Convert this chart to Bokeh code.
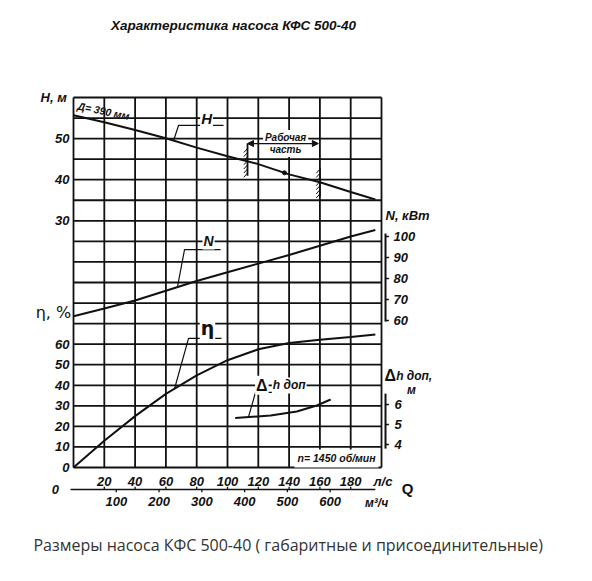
import numpy as np
from bokeh.plotting import figure
from bokeh.models import Range1d, Arrow, NormalHead
from bokeh.core.properties import value
from bokeh.embed import file_html
from bokeh.resources import INLINE

# ---------------- data ----------------
q_grid = [0, 20, 40, 60, 80, 100, 120, 140, 160, 180, 200]      # л/с, vertical grid
row_grid = list(range(0, 19))                                    # horizontal grid rows
q_ls_ticks = [20, 40, 60, 80, 100, 120, 140, 160, 180]           # л/с labels
q_m3h_ticks = [100, 200, 300, 400, 500, 600]                     # м3/ч labels
H_ticks = [30, 40, 50]
eta_ticks = [0, 10, 20, 30, 40, 50, 60]
N_ticks = [60, 70, 80, 90, 100]
dh_ticks = [4, 5, 6]

q_curve = [0, 20, 40, 60, 80, 100, 120, 140, 160, 180, 196]
H_vals = [55.7, 54.0, 52.1, 50.1, 47.8, 45.7, 43.8, 41.3, 39.4, 37.0, 35.2]
N_vals = [62.0, 65.7, 69.5, 74.2, 78.8, 83.0, 87.1, 91.2, 95.6, 100.0, 103.1]
eta_vals = [0, 13.0, 25.0, 35.8, 44.8, 52.2, 57.5, 60.6, 62.2, 63.5, 64.7]
q_dh = [105, 128, 145, 158, 167]
dh_vals = [5.32, 5.45, 5.65, 5.95, 6.25]
work_q = [113, 160]          # working part limits, л/с
opt_q = [137]                # marked point on H curve

title = "Характеристика насоса КФС 500-40"
caption = "Размеры насоса КФС 500-40 ( габаритные и присоединительные)"

# ---------------- scales (grid rows) ----------------
def h_row(h): return 16 + (np.asarray(h, float) - 50) / 5
def n_row(n): return 7.15 + (np.asarray(n, float) - 60) * 0.1022
def eta_row(e): return np.asarray(e, float) / 10
def dh_row(d): return 1.12 + (np.asarray(d, float) - 4) * 0.972

PXQ, PXR = 1.54, 20.556
W, Hh = 576, 565
ox, oy = 73, 467
p = figure(width=W, height=Hh, output_backend="svg", toolbar_location=None,
           x_range=Range1d(-ox / PXQ, (W - ox) / PXQ),
           y_range=Range1d(-(Hh - oy) / PXR, oy / PXR),
           x_axis_location=None, y_axis_location=None, min_border=0)
p.outline_line_color = None
p.grid.visible = False
p.background_fill_color = "white"
p.border_fill_color = "white"

INK = "#111111"
F = value("Liberation Sans")

def txt(x, y, t, size="12px", style="bold italic", align="center", base="middle",
        bg=None, font=F, color=INK, angle=0, pad=1):
    t = list(np.atleast_1d(t))
    n = len(t)
    xs = list(np.broadcast_to(np.atleast_1d(np.asarray(x, float)), (n,)))
    ys = list(np.broadcast_to(np.atleast_1d(np.asarray(y, float)), (n,)))
    kw = {}
    if bg:
        kw = dict(background_fill_color=bg, padding=pad)
    p.text(x=[float(v) for v in xs], y=[float(v) for v in ys], text=[str(v) for v in t],
           text_font=font, text_font_style=style, text_font_size=size,
           text_align=align, text_baseline=base, text_color=color, angle=angle, **kw)

# grid
qmax, rmax = q_grid[-1], row_grid[-1]
p.segment(x0=q_grid, y0=[0] * len(q_grid), x1=q_grid, y1=[rmax] * len(q_grid),
          line_color=INK, line_width=1.8)
p.segment(x0=[0] * len(row_grid), y0=row_grid, x1=[qmax] * len(row_grid), y1=row_grid,
          line_color=INK, line_width=1.8)

# curves
p.line(q_curve, h_row(H_vals), line_color=INK, line_width=2)
p.line(q_curve, n_row(N_vals), line_color=INK, line_width=2)
p.line(q_curve, eta_row(eta_vals), line_color=INK, line_width=2)
p.line(q_dh, dh_row(dh_vals), line_color=INK, line_width=2)
p.scatter(opt_q, h_row(np.interp(opt_q, q_curve, H_vals)), size=4, color=INK)

# working part
hw = h_row(np.interp(work_q, q_curve, H_vals))
arrow_row = 15.76
p.line([work_q[0], work_q[0]], [hw[0] - 0.7, arrow_row], line_color=INK, line_width=1.8)
p.line([work_q[1], work_q[1]], [hw[1] - 0.7, hw[1] + 0.7], line_color=INK, line_width=1.8)
for qq, rr in zip(work_q, hw):
    ys = np.arange(rr - 0.65, rr + 0.6, 0.2)
    p.segment(x0=[qq - 2.4] * len(ys), y0=list(ys - 0.12), x1=[qq] * len(ys), y1=list(ys + 0.08),
              line_color=INK, line_width=1)
txt(137.7, 16.05, "Рабочая", size="10px", bg="white", pad=2)
txt(137.7, 15.47, "часть", size="10px", bg="white", pad=2)
p.add_layout(Arrow(start=NormalHead(size=6, fill_color=INK, line_color=INK),
                   end=NormalHead(size=6, fill_color=INK, line_color=INK),
                   x_start=work_q[0], y_start=arrow_row, x_end=work_q[1] - 1, y_end=arrow_row,
                   line_color=INK, line_width=1.3))

# curve labels with leaders
def leader(q0, r0, qk, rk, q1):
    p.line([q0, qk, q1], [r0, rk, rk], line_color=INK, line_width=1.2)

leader(65, float(h_row(np.interp(65, q_curve, H_vals))), 68.2, 16.64, 97.4)
txt(86.4, 17.0, "H", size="15px", bg="white")
leader(67.5, float(n_row(np.interp(67.5, q_curve, N_vals))), 72.1, 10.6, 95.5)
txt(87.7, 11.04, "N", size="14px", bg="white")
leader(65.6, float(eta_row(np.interp(65.6, q_curve, eta_vals))), 74.7, 6.28, 96.1)
txt(87.0, 6.8, "η", size="19px", style="bold", bg="white", font=value("DejaVu Sans"))
leader(113.6, float(dh_row(np.interp(113.6, q_dh, dh_vals))), 118.2, 3.65, 149.4)
txt(122.3, 4.0, "Δ", size="16px", style="bold", bg="white")
txt(128.8, 3.99, "h доп", size="12px", align="left", bg="white")

txt(19.5, 17.35, "Д= 390 мм", size="10.5px", angle=-0.2)
txt(170.8, 0.44, "n= 1450 об/мин", size="10.5px", bg="white", pad=3)

# left axis labels
txt(-2.6, h_row(H_ticks), H_ticks, size="13px", align="right")
txt(-2.6, eta_row(eta_ticks), eta_ticks, size="13px", align="right")
txt(-21.4, 18.0, "H, м", size="13px", align="left")
txt(-1.5, 7.54, "η, %", size="16px", style="normal", align="right", font=value("DejaVu Sans"))

# right axes
xa = 202.6
p.line([xa, xa], [float(n_row(60)) - 0.05, float(n_row(100)) + 0.15], line_color=INK, line_width=2)
p.segment(x0=[xa] * len(N_ticks), y0=list(n_row(N_ticks)), x1=[xa + 2.2] * len(N_ticks),
          y1=list(n_row(N_ticks)), line_color=INK, line_width=1.5)
txt(207.8, n_row(N_ticks), N_ticks, size="13px", align="left")
txt(202.6, 12.26, "N, кВт", size="13px", align="left")

p.line([xa, xa], [float(dh_row(4)) - 0.2, float(dh_row(6)) + 0.53], line_color=INK, line_width=2)
p.segment(x0=[xa] * len(dh_ticks), y0=list(dh_row(dh_ticks)), x1=[xa + 2.2] * len(dh_ticks),
          y1=list(dh_row(dh_ticks)), line_color=INK, line_width=1.5)
txt(208.4, dh_row(dh_ticks), dh_ticks, size="13px", align="left")
txt(202.0, 4.48, "Δ", size="16px", style="bold", align="left")
txt(209.5, 4.46, "h доп,", size="12px", align="left")
txt(219.5, 3.79, "м", size="12px")

# bottom Q axis
ya = -1.07
p.line([-1.9, 196], [ya, ya], line_color=INK, line_width=1.5)
p.segment(x0=q_ls_ticks, y0=[ya] * len(q_ls_ticks), x1=q_ls_ticks, y1=[ya + 0.13] * len(q_ls_ticks),
          line_color=INK, line_width=1.3)
q_m = [v / 3.6 for v in q_m3h_ticks]
p.segment(x0=q_m, y0=[ya] * len(q_m), x1=q_m, y1=[ya - 0.13] * len(q_m),
          line_color=INK, line_width=1.3)
txt(q_ls_ticks, -0.68, q_ls_ticks, size="13px")
txt(q_m, -1.65, q_m3h_ticks, size="13px")
txt(-11.7, ya, "0", size="13px")
txt(194.8, -0.68, "л/с", size="13px", align="left")
txt(216.9, -1.02, "Q", size="15px", style="bold")
txt(196.8, -1.75, "м³/ч", size="12px")

# titles
txt(103.9, 21.5, title, size="13.5px")
txt(-26.0, -3.79, caption, size="16px", style="normal", align="left",
    font=value("Open Sans"), color="#333333")

open("out.html", "w").write(file_html(p, INLINE))
